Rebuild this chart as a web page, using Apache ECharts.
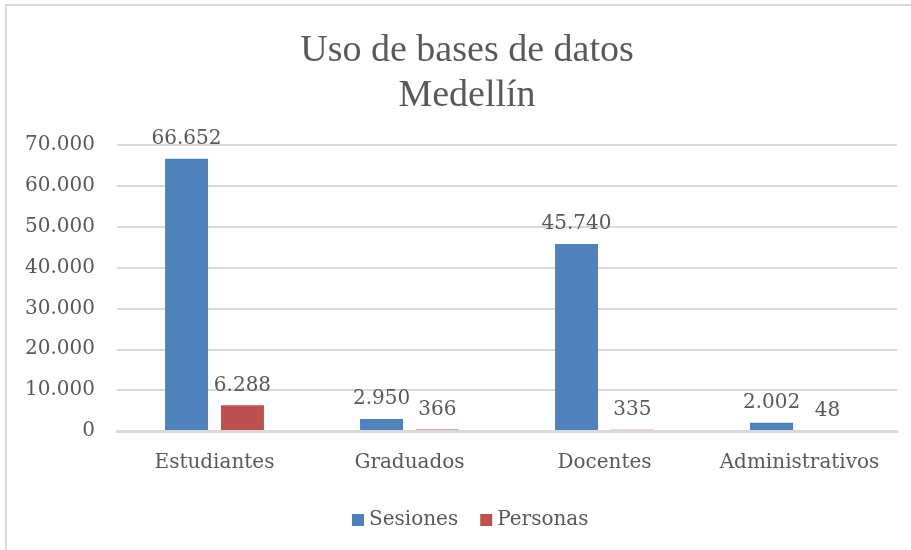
<!DOCTYPE html>
<html>
<head>
<meta charset="utf-8">
<script src="https://cdn.jsdelivr.net/npm/echarts@6/dist/echarts.min.js"></script>
<style>
  body { margin: 0; background: #fff; overflow: hidden; }
  #frame { position: absolute; left: 5px; top: 4px; width: 930px; height: 570px; border: 2px solid #d9d9d9; box-sizing: border-box; }
  #chart { position: absolute; left: 0; top: 0; width: 911px; height: 550px; }
</style>
</head>
<body>
<div id="frame"></div>
<div id="chart"></div>
<script>
// datos
const categorias = ['Estudiantes', 'Graduados', 'Docentes', 'Administrativos'];
const sesiones = [66652, 2950, 45740, 2002];
const personas = [6288, 366, 335, 48];

const serif = 'DejaVu Serif';
const gris = '#595959';

// 66652 -> 66.652
function fmt(v) {
  return String(v).replace(/\B(?=(\d{3})+(?!\d))/g, '.');
}

let myChart = echarts.init(document.getElementById('chart'));

let option = {
  animation: false,
  title: {
    text: 'Uso de bases de datos\nMedellín',
    left: 462,
    textAlign: 'center',
    top: 24,
    textStyle: {
      fontFamily: 'Liberation Serif',
      fontWeight: 'normal',
      fontSize: 38,
      lineHeight: 45,
      color: gris
    }
  },
  legend: {
    top: 505,
    left: 347,
    itemWidth: 12,
    itemHeight: 12,
    itemGap: 22,
    icon: 'rect',
    textStyle: { fontFamily: serif, fontSize: 20, color: gris }
  },
  grid: { left: 117, right: 14, top: 145, bottom: 119 },
  xAxis: {
    type: 'category',
    data: categorias,
    z: 5,
    axisLine: { lineStyle: { color: '#d9d9d9', width: 3 } },
    axisTick: { show: false },
    axisLabel: { interval: 0, fontFamily: serif, fontSize: 20, color: gris, margin: 22 }
  },
  yAxis: {
    type: 'value',
    min: 0,
    max: 70000,
    interval: 10000,
    axisLine: { show: false },
    axisTick: { show: false },
    splitLine: { lineStyle: { color: '#d9d9d9', width: 2 } },
    axisLabel: {
      fontFamily: serif, fontSize: 20, color: gris, margin: 22,
      padding: [6, 0, 0, 0],
      formatter: fmt
    }
  },
  series: [
    {
      name: 'Sesiones',
      type: 'bar',
      data: sesiones,
      barWidth: 43,
      barGap: '30%',
      itemStyle: { color: '#4f81bd' },
      label: {
        show: true, position: 'top', distance: 10,
        fontFamily: serif, fontSize: 20, color: gris,
        formatter: p => fmt(p.value)
      }
    },
    {
      name: 'Personas',
      type: 'bar',
      data: personas,
      barWidth: 43,
      barGap: '30%',
      itemStyle: { color: '#c0504d' },
      label: {
        show: true, position: 'top', distance: 10,
        fontFamily: serif, fontSize: 20, color: gris,
        formatter: p => fmt(p.value)
      }
    }
  ]
};

myChart.setOption(option);
</script>
</body>
</html>
